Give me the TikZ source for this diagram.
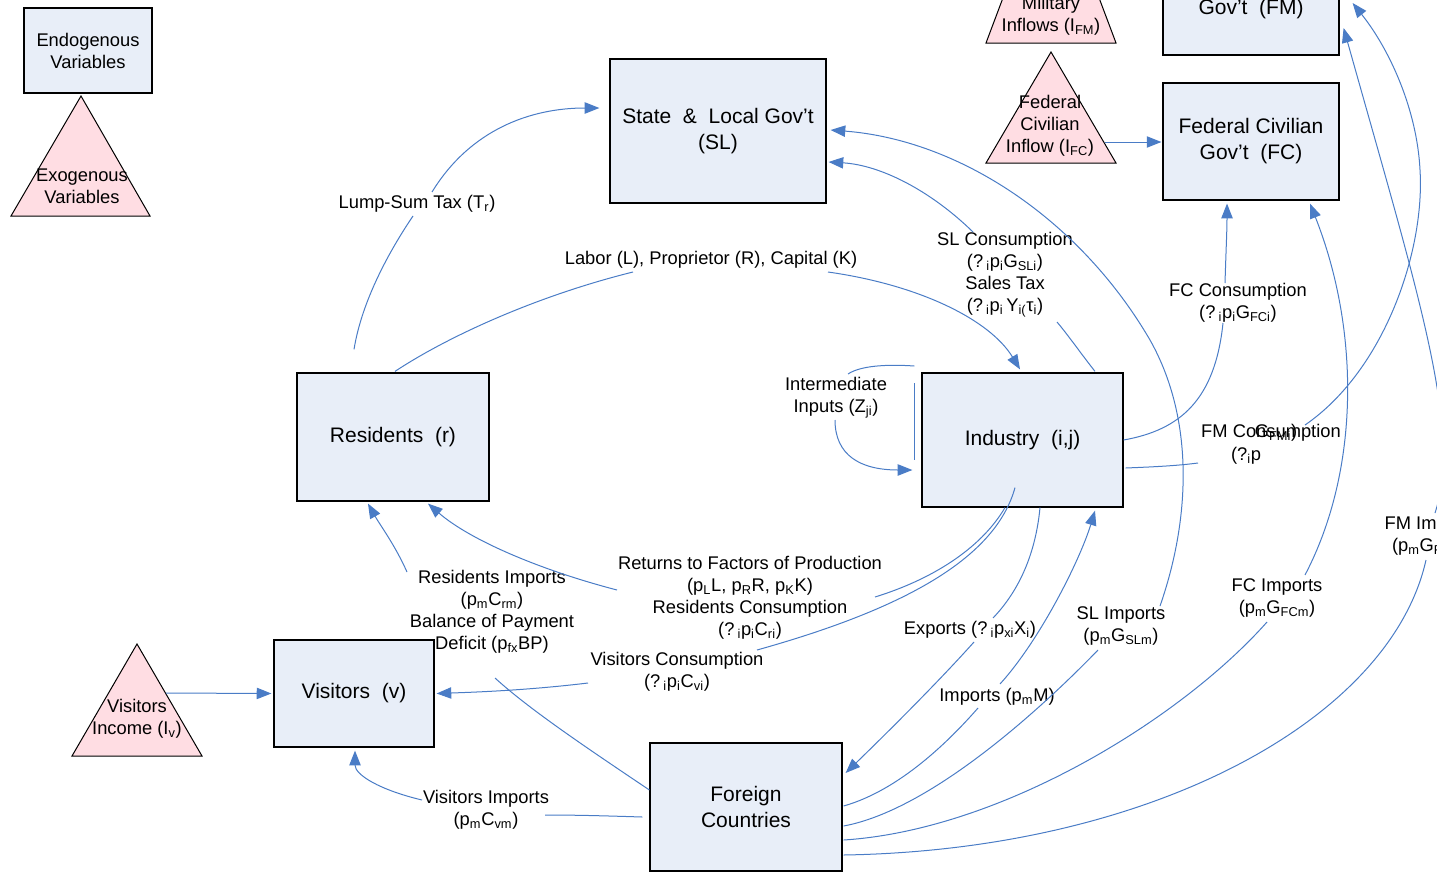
\documentclass[tikz,border=0pt]{standalone}
\usepackage{fontspec}
\setmainfont{Liberation Sans}
\usetikzlibrary{arrows.meta,calc}
\definecolor{boxfill}{HTML}{E8EEF8}
\definecolor{trifill}{HTML}{FFDDE3}
\definecolor{flow}{HTML}{4A7CC6}
\newcommand\sbs[1]{\textsubscript{#1}}
\newcommand\boxfont{\fontsize{15.75pt}{19.5pt}\selectfont}
\newcommand\lblfont{\fontsize{13.75pt}{16.5pt}\selectfont}

\begin{document}
\begin{tikzpicture}[x=0.75pt,y=-0.75pt,
  box/.style={draw=black, fill=boxfill, line width=0.9pt, inner sep=0pt, align=center, font=\boxfont},
  lbl/.style={inner sep=0pt, align=center, font=\lblfont},
  tri/.style={draw=black, fill=trifill, line width=0.75pt},
  flowline/.style={draw=flow, line width=0.75pt},
  flowarrow/.style={flowline, -{Triangle[length=11pt,width=8.5pt]}}
]
\useasboundingbox (0,0) rectangle (1437,878);
\clip (0,0) rectangle (1437,878);

% ---- legend ----
\node[box, font=\lblfont, minimum width=96pt, minimum height=63.75pt] (endo) at (88,50.5) {Endogenous\\Variables};
\draw[tri] (81,96) -- (150,216) -- (11,216) -- cycle;
\node[lbl] (exo) at (82,186) {Exogenous\\Variables};

% ---- exogenous inflows ----
\draw[tri] (1051,-130) -- (1116,43) -- (986,43) -- cycle;
\node[lbl] (milinf) at (1051,16) {Military\\Inflows (I\sbs{FM})};
\draw[tri] (1051,52) -- (1116,163) -- (986,163) -- cycle;
\node[lbl] (fedciv) at (1050,126) {Federal\\Civilian\\Inflow (I\sbs{FC})};
\coordinate (fedciv-out) at (1105,142);
\draw[tri] (137,644) -- (202,756) -- (72,756) -- cycle;
\node[lbl] (vinc) at (137,719) {Visitors\\Income (I\sbs{v})};
\coordinate (vinc-out) at (166,693);

% ---- agents ----
\node[box, minimum width=162pt, minimum height=108pt] (sl) at (718,131) {State\ \ \&\ \ Local Gov't\\(SL)};
\node[box, minimum width=132pt, minimum height=87.75pt] (fm) at (1251,-3.5) {Federal Military\\Gov't\ \ (FM)};
\node[box, minimum width=132pt, minimum height=87.75pt] (fc) at (1251,141.5) {Federal Civilian\\Gov't\ \ (FC)};
\node[box, minimum width=144pt, minimum height=96pt] (res) at (393,437) {Residents\ \ (r)};
\node[box, minimum width=150.75pt, minimum height=100.5pt] (ind) at (1022.5,440) {Industry\ \ (i,j)};
\node[box, minimum width=120pt, minimum height=80.25pt] (vis) at (354,693.5) {Visitors\ \ (v)};
\node[box, minimum width=144pt, minimum height=96pt] (forn) at (746,807) {Foreign\\Countries};

% ---- flow labels ----
\node[lbl] (lump) at (417,204) {Lump-Sum Tax (T\sbs{r})};
\node[lbl] (labor) at (711,260) {Labor (L), Proprietor (R), Capital (K)};
\node[lbl] (slcons) at (1005,275) {SL Consumption\\(?\,\sbs{i}p\sbs{i}G\sbs{SLi})\\Sales Tax\\(?\,\sbs{i}p\sbs{i}\,Y\sbs{i(}τ\sbs{i})};
\node[lbl] (fccons) at (1238,303) {FC Consumption\\(?\,\sbs{i}p\sbs{i}G\sbs{FCi})};
\node[lbl] (fmcons) at (1271,433) {FM Consumption};
\node[lbl] (fmcons2) at (1246,456) {(?\sbs{i}p};
\node[lbl] (fmcons3) at (1276,433) {G\sbs{FMi})};
\node[lbl] (inter) at (836,398) {Intermediate\\Inputs (Z\sbs{ji})};
\node[lbl] (returns) at (750,598) {Returns to Factors of Production\\(p\sbs{L}L, p\sbs{R}R, p\sbs{K}K)\\Residents Consumption\\(?\,\sbs{i}p\sbs{i}C\sbs{ri})};
\node[lbl] (viscons) at (677,672) {Visitors Consumption\\(?\,\sbs{i}p\sbs{i}C\sbs{vi})};
\node[lbl] (resimp) at (492,612) {Residents Imports\\(p\sbs{m}C\sbs{rm})\\Balance of Payment\\Deficit (p\sbs{fx}BP)};
\node[lbl] (visimp) at (486,810) {Visitors Imports\\(p\sbs{m}C\sbs{vm})};
\node[lbl] (exports) at (970,630) {Exports (?\,\sbs{i}p\sbs{xi}X\sbs{i})};
\node[lbl] (imports) at (997,697) {Imports (p\sbs{m}M)};
\node[lbl] (slimp) at (1121,626) {SL Imports\\(p\sbs{m}G\sbs{SLm})};
\node[lbl] (fcimp) at (1277,598) {FC Imports\\(p\sbs{m}G\sbs{FCm})};
\node[lbl] (fmimp) at (1431,536) {FM Imports\\(p\sbs{m}G\sbs{FMm})};

% ---- flows ----
% lump-sum tax: residents -> state & local
\draw[flowline] ($(res.north)+(-39,-23)$) .. controls (362,300) and (390,250) .. ($(lump)+(-4,12)$);
\draw[flowarrow] ($(lump)+(15,-12)$) .. controls (470,130) and (530,108) .. ($(sl.west)+(-10,-23)$);
% factor supply: residents -> industry
\draw[flowline] ($(res.north)+(2,-1)$) .. controls (450,335) and (540,295) .. ($(labor)+(-78,12)$);
\draw[flowarrow] ($(labor)+(117,12)$) .. controls (920,285) and (990,320) .. ($(ind.north)+(-2.5,-3)$);
% SL consumption and sales tax: industry -> state & local
\draw[flowline] ($(ind.north)+(72.5,-1)$) .. controls (1082,355) and (1068,335) .. ($(slcons)+(52,47)$);
\draw[flowarrow] ($(slcons)+(-32,-43)$) .. controls (930,190) and (880,165) .. ($(sl.east)+(2,31)$);
% SL imports: foreign -> state & local
\draw[flowline] ($(forn.east)+(1,19)$) .. controls (930,810) and (1040,710) .. ($(slimp)+(-23,24)$);
\draw[flowarrow] ($(slimp)+(39,-20)$) .. controls (1190,520) and (1195,420) .. (1150,340)
  .. controls (1080,220) and (960,140) .. ($(sl.east)+(4,-1)$);
% exports: industry -> foreign
\draw[flowline] ($(ind.south)+(17.5,0)$) .. controls (1035,560) and (1015,595) .. ($(exports)+(23,-12)$);
\draw[flowarrow] ($(exports)+(4,12)$) .. controls (940,680) and (890,730) .. ($(forn.east)+(3,-34)$);
% imports: foreign -> industry
\draw[flowline] ($(forn.east)+(1,-1)$) .. controls (900,790) and (950,740) .. ($(imports)+(-19,11)$);
\draw[flowarrow] ($(imports)+(3,-13)$) .. controls (1040,640) and (1080,560) .. ($(ind.south)+(72.5,3)$);
% FC consumption: industry -> federal civilian
\draw[flowline] (ind.east) .. controls (1180,430) and (1215,400) .. ($(fccons)+(-15,20)$);
\draw[flowarrow] ($(fccons)+(-13,-20)$) .. controls (1226,250) and (1227,230) .. ($(fc.south)+(-24,3)$);
% FC imports: foreign -> federal civilian
\draw[flowline] ($(forn.east)+(1,33)$) .. controls (1000,830) and (1180,720) .. ($(fcimp)+(-10,24)$);
\draw[flowarrow] ($(fcimp)+(28,-23)$) .. controls (1360,470) and (1360,330) .. ($(fc.south)+(59,3)$);
% FM consumption: industry -> federal military
\draw[flowline] ($(ind.east)+(2,28)$) .. controls (1150,467) and (1175,466) .. ($(fmcons)+(-73,30)$);
\draw[flowarrow] ($(fmcons)+(34,-8)$) .. controls (1385,370) and (1425,250) .. (1420,170)
  .. controls (1417,110) and (1390,50) .. ($(fm.east)+(13,6.5)$);
% FM imports: foreign -> federal military
\draw[flowline] ($(forn.east)+(1,48)$) .. controls (1150,850) and (1390,720) .. ($(fmimp)+(-5,24)$);
\draw[flowarrow] ($(fmimp)+(4,-23)$) .. controls (1462,430) and (1420,300) .. ($(fm.east)+(4,31.5)$);
% intermediate inputs: industry -> industry
\draw[flowline] ($(ind.west)+(-7,-74)$) .. controls (885,364) and (860,366) .. ($(inter)+(12,-24)$);
\draw[flowline] ($(ind.west)+(-7,-57)$) -- ($(ind.west)+(-7,20)$);
\draw[flowarrow] ($(inter)+(-1,22)$) .. controls (835,455) and (860,470) .. ($(ind.west)+(-9,30)$);
% factor returns and residents consumption
\draw[flowline] ($(ind.south)+(-17.5,0)$) .. controls (980,550) and (930,580) .. ($(returns)+(125,-1)$);
\draw[flowarrow] ($(returns)+(-133,-8)$) .. controls (540,570) and (470,540) .. ($(res.south)+(35,2)$);
% visitors consumption
\draw[flowline] ($(ind.south)+(-7.5,-20)$) .. controls (995,560) and (900,610) .. ($(viscons)+(80,-22)$);
\draw[flowarrow] ($(viscons)+(-89,11)$) .. controls (530,690) and (480,692) .. ($(vis.east)+(2,0)$);
% residents imports / balance of payment
\draw[flowline] ($(forn.west)+(0,-17)$) .. controls (590,750) and (530,710) .. ($(resimp)+(3,66)$);
\draw[flowarrow] ($(resimp)+(-85,-40)$) .. controls (395,545) and (380,525) .. ($(res.south)+(-25,2)$);
% visitors imports
\draw[flowline] ($(forn.west)+(-7,10)$) .. controls (610,816) and (580,815) .. ($(visimp)+(59,5)$);
\draw[flowarrow] ($(visimp)+(-64,-10)$) .. controls (380,790) and (355,775) .. ($(vis.south)+(1,3)$);
% exogenous inflows
\draw[flowarrow] (vinc-out) -- ($(vis.west)+(-2,0)$);
\draw[flowarrow] (fedciv-out) -- ($(fc.west)+(-1,0.5)$);
\end{tikzpicture}
\end{document}
